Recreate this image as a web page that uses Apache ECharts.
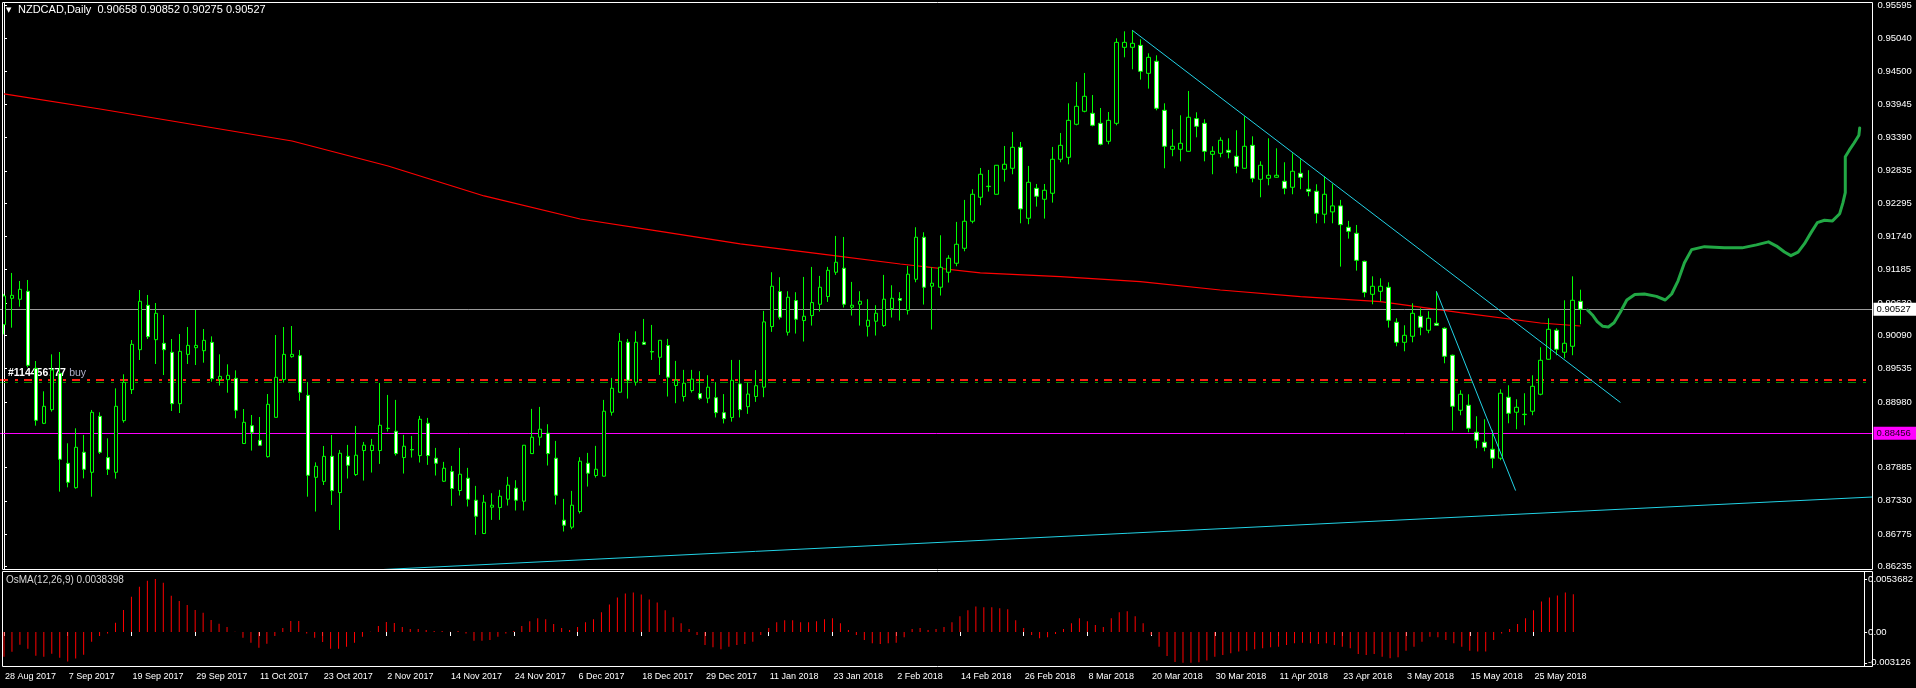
<!DOCTYPE html>
<html><head><meta charset="utf-8">
<script src="https://cdn.jsdelivr.net/npm/echarts@6/dist/echarts.min.js"></script>
<style>html,body{margin:0;padding:0;background:#000;}#c{width:1916px;height:688px;}</style>
</head><body><div id="c"></div>
<script>
// ---------- DATA ----------
const tickLabels = ['28 Aug 2017','7 Sep 2017','19 Sep 2017','29 Sep 2017','11 Oct 2017','23 Oct 2017','2 Nov 2017','14 Nov 2017','24 Nov 2017','6 Dec 2017','18 Dec 2017','29 Dec 2017','11 Jan 2018','23 Jan 2018','2 Feb 2018','14 Feb 2018','26 Feb 2018','8 Mar 2018','20 Mar 2018','30 Mar 2018','11 Apr 2018','23 Apr 2018','3 May 2018','15 May 2018','25 May 2018'];
const TOTAL_SLOTS = 234;

const opens = [0.90269,0.90708,0.90692,0.90825,0.89540,0.88622,0.88850,0.89456,0.87955,0.87548,
0.88139,0.87805,0.88739,0.88050,0.87805,0.88667,0.89184,0.89851,0.90591,0.90018,
0.89957,0.89807,0.88950,0.89773,0.89884,0.89834,0.89973,0.89356,0.89351,0.89373,
0.88285,0.88583,0.88339,0.88066,0.88722,0.89351,0.89734,0.89751,0.89089,0.87721,
0.87654,0.88072,0.87467,0.88072,0.87767,0.88168,0.88168,0.88168,0.88535,0.88490,
0.88051,0.88184,0.88084,0.88623,0.88040,0.87656,0.87817,0.87501,0.87706,0.87339,
0.86783,0.87223,0.87217,0.87356,0.87540,0.87323,0.88117,0.88390,0.88457,0.88040,
0.87006,0.86889,0.87150,0.87956,0.87751,0.87740,0.88807,0.89141,0.89975,0.89307,
0.89975,0.89819,0.89724,0.89920,0.89253,0.89069,0.89169,0.89119,0.89041,0.8905,
0.8880,0.8872,0.8928,0.8890,0.8907,0.89225,0.90237,0.90821,0.90142,0.90670,
0.90337,0.90420,0.90609,0.90737,0.91143,0.91210,0.90559,0.90609,0.90242,0.90326,
0.90253,0.90537,0.90704,0.90509,0.91026,0.91727,0.90910,0.90893,0.91143,0.91293,
0.91543,0.91994,0.92394,0.92578,0.92444,0.92861,0.92878,0.93228,0.92044,0.92544,
0.92361,0.92461,0.93028,0.93061,0.93612,0.93829,0.93795,0.93628,0.93328,0.93628,
0.94896,0.94896,0.94929,0.94462,0.94663,0.93845,0.93195,0.93195,0.93161,0.93706,
0.93628,0.93111,0.93128,0.93178,0.93078,0.92878,0.93261,0.92694,0.92711,0.92728,
0.92661,0.92561,0.92794,0.92528,0.92494,0.92111,0.9215,0.9225,0.91893,0.91793,
0.91325,0.90775,0.90825,0.90892,0.90308,0.89974,0.90075,0.90408,0.90175,0.90291,
0.90208,0.89758,0.88840,0.88924,0.88473,0.88306,0.88190,0.88040,0.89057,0.88807,
0.88774,0.88824,0.89107,0.89691,0.90175,0.89808,0.89908,0.90658];
const highs = [0.90781,0.91131,0.90997,0.91014,0.89662,0.89156,0.89773,0.89812,0.88289,0.88539,
0.88428,0.88845,0.88806,0.88372,0.89206,0.89440,0.90012,0.90847,0.90764,0.90630,
0.90430,0.90029,0.90112,0.90229,0.90513,0.90196,0.90073,0.89773,0.89607,0.89506,
0.88861,0.88761,0.88728,0.89111,0.90096,0.90229,0.90246,0.89846,0.89312,0.87971,
0.88244,0.88428,0.88178,0.88262,0.88579,0.88312,0.88362,0.89296,0.89096,0.89013,
0.88429,0.88412,0.88746,0.88713,0.88212,0.87979,0.87912,0.88212,0.87879,0.87578,
0.87428,0.87456,0.87512,0.87729,0.87673,0.88260,0.88863,0.88896,0.88607,0.88329,
0.87361,0.87495,0.88057,0.88129,0.88246,0.89013,0.89380,0.90130,0.90030,0.90158,
0.90364,0.90264,0.90010,0.90031,0.89664,0.89514,0.89514,0.89492,0.89425,0.8931,
0.8911,0.8968,0.8968,0.8930,0.8951,0.90498,0.91143,0.91060,0.90826,0.90810,
0.91065,0.91232,0.91082,0.91232,0.91749,0.91732,0.90982,0.90826,0.90693,0.90593,
0.91099,0.90926,0.90810,0.91249,0.91894,0.91810,0.91226,0.91760,0.91427,0.91983,
0.92350,0.92528,0.92883,0.92850,0.92930,0.93250,0.93484,0.93317,0.92917,0.92616,
0.92616,0.93234,0.93467,0.93962,0.94318,0.94468,0.94101,0.93884,0.93817,0.95046,
0.95163,0.95180,0.95029,0.94796,0.94763,0.93962,0.93528,0.93762,0.94168,0.93812,
0.93695,0.93245,0.93395,0.93378,0.93512,0.93745,0.93411,0.92994,0.93378,0.93211,
0.92978,0.93128,0.93028,0.92845,0.92611,0.92744,0.9262,0.9235,0.9200,0.91932,
0.91337,0.91075,0.91042,0.90975,0.90375,0.90258,0.90625,0.90541,0.90492,0.90825,
0.90225,0.89769,0.89174,0.89107,0.88740,0.88690,0.88507,0.89190,0.89257,0.89024,
0.89124,0.89424,0.89891,0.90375,0.90208,0.90675,0.91075,0.90852];
const lows = [0.90107,0.90218,0.90569,0.89556,0.88583,0.88610,0.88817,0.87482,0.87554,0.87532,
0.87704,0.87398,0.88111,0.87760,0.87699,0.88633,0.89111,0.89679,0.90029,0.89612,
0.89428,0.88828,0.88794,0.89612,0.89595,0.89634,0.89317,0.89251,0.89133,0.88706,
0.88280,0.88167,0.88250,0.88050,0.88720,0.89301,0.89717,0.89000,0.87398,0.87150,
0.87593,0.87260,0.86843,0.87701,0.87745,0.87667,0.87801,0.87945,0.88485,0.88084,
0.87784,0.88051,0.87968,0.87929,0.87751,0.87645,0.87245,0.87417,0.87234,0.86761,
0.86775,0.87011,0.87011,0.87250,0.87167,0.87167,0.88110,0.88251,0.87918,0.87267,
0.86817,0.86855,0.87117,0.87567,0.87717,0.87735,0.88751,0.89135,0.89035,0.89252,
0.89930,0.89680,0.89430,0.89069,0.88958,0.88986,0.89136,0.89014,0.88958,0.8872,
0.8862,0.8865,0.8872,0.8878,0.8898,0.89058,0.90148,0.90354,0.90087,0.90120,
0.89987,0.90253,0.90487,0.90648,0.91099,0.90554,0.90420,0.90253,0.90070,0.90087,
0.90231,0.90387,0.90337,0.90437,0.90976,0.90604,0.90187,0.90754,0.90971,0.91243,
0.91493,0.91960,0.92261,0.92489,0.92440,0.92655,0.92778,0.91960,0.91944,0.92238,
0.92038,0.92305,0.92978,0.92944,0.93595,0.93812,0.93578,0.93261,0.93278,0.93595,
0.94729,0.94529,0.94357,0.94207,0.93845,0.92878,0.93078,0.92994,0.93155,0.93395,
0.92994,0.92778,0.93061,0.93044,0.92794,0.92870,0.92644,0.92394,0.92594,0.92720,
0.92444,0.92444,0.92528,0.92411,0.91960,0.91960,0.9196,0.91237,0.91704,0.91170,
0.90725,0.90608,0.90658,0.90219,0.89908,0.89824,0.89974,0.90091,0.90125,0.90247,
0.89624,0.88501,0.88757,0.88473,0.88206,0.88156,0.87873,0.88006,0.88623,0.88523,
0.88590,0.88757,0.89090,0.89685,0.89758,0.89707,0.89758,0.90275];
const closes = [0.90747,0.90758,0.90858,0.89590,0.88672,0.88906,0.89512,0.88022,0.87638,0.88222,
0.87855,0.88806,0.88139,0.87855,0.88906,0.89306,0.89940,0.90658,0.90068,0.90458,
0.89851,0.88950,0.89823,0.89923,0.89923,0.90007,0.89367,0.89406,0.89423,0.88839,
0.88639,0.88472,0.88256,0.88939,0.89390,0.89773,0.89773,0.89139,0.87755,0.87905,
0.88071,0.87499,0.88123,0.87922,0.88090,0.88257,0.88257,0.88590,0.88540,0.88117,
0.88240,0.88179,0.88690,0.88084,0.87956,0.87873,0.87534,0.87773,0.87356,0.87072,
0.87306,0.87256,0.87406,0.87590,0.87339,0.88257,0.88390,0.88524,0.88117,0.87423,
0.86922,0.87256,0.87990,0.87790,0.87856,0.88824,0.89207,0.89991,0.89341,0.89975,
0.89941,0.89813,0.90008,0.89392,0.89342,0.89292,0.89359,0.89041,0.89225,0.8880,
0.8870,0.8934,0.8885,0.8911,0.8925,0.90315,0.90910,0.90393,0.90726,0.90359,
0.90409,0.90637,0.90893,0.91176,0.91310,0.90609,0.90593,0.90659,0.90342,0.90459,
0.90693,0.90709,0.90676,0.91110,0.91727,0.90893,0.90960,0.91226,0.91377,0.91610,
0.91994,0.92444,0.92778,0.92572,0.92928,0.92945,0.93228,0.92200,0.92644,0.92411,
0.92511,0.93028,0.93261,0.93678,0.93912,0.94079,0.93595,0.93278,0.93678,0.94979,
0.94979,0.94963,0.94496,0.94729,0.93879,0.93245,0.93245,0.93295,0.93729,0.93578,
0.93161,0.93161,0.93345,0.93145,0.92911,0.93245,0.92711,0.92928,0.92761,0.92761,
0.92544,0.92828,0.92728,0.92494,0.92127,0.92444,0.9225,0.91937,0.91826,0.91342,
0.90808,0.90909,0.90909,0.90342,0.89974,0.90091,0.90458,0.90225,0.90375,0.90258,
0.89741,0.88907,0.89107,0.88540,0.88340,0.88223,0.88040,0.89124,0.88790,0.88890,
0.88768,0.89240,0.89674,0.90191,0.89858,0.89958,0.90675,0.90527];

const osma = [-0.0025,-0.0020,-0.0013,-0.0017,-0.0024,-0.0025,-0.0022,-0.0026,-0.0030,-0.0027,
-0.0023,-0.0010,-0.0004,-0.00014,0.00095,0.00223,0.00358,0.0046,0.0052,0.00537,
0.0050,0.00368,0.00314,0.00274,0.00223,0.00196,0.00122,0.00085,0.00051,0.00002,
-0.00057,-0.00108,-0.00159,-0.00118,-0.00041,0.00041,0.00112,0.00112,-0.00014,-0.00057,
-0.00101,-0.00169,-0.00170,-0.00149,-0.00108,-0.00047,0.00002,0.00061,0.00101,0.00091,
0.0005,0.0003,0.0003,0.0002,0.0001,0.0001,0.00002,0.0001,-0.00014,-0.00088,
-0.00088,-0.00081,-0.00047,-0.00014,0.0001,0.0006,0.0011,0.0014,0.0013,0.0008,
0.0004,0.0002,0.0005,0.0010,0.0013,0.0020,0.0028,0.0035,0.0039,0.0040,
0.0038,0.0033,0.0030,0.0022,0.0015,0.0009,0.0003,-0.0003,-0.00132,-0.00155,
-0.00176,-0.00149,-0.00132,-0.00122,-0.00098,-0.0003,0.0004,0.0010,0.0012,0.0012,
0.0010,0.0010,0.0011,0.0013,0.0014,0.0009,0.0002,-0.0003,-0.00081,-0.00115,
-0.00122,-0.00115,-0.00108,-0.00054,0.0003,0.0004,0.0002,0.0003,0.0005,0.0010,
0.0016,0.0022,0.0026,0.0025,0.0025,0.0024,0.0023,0.0012,0.0004,-0.0003,
-0.00064,-0.00054,-0.0002,0.0003,0.0009,0.0014,0.0011,0.0007,0.0005,0.0014,
0.0020,0.0021,0.0016,0.0009,-0.0003,-0.00149,-0.00243,-0.00305,-0.00312,-0.00312,
-0.00308,-0.00290,-0.00250,-0.00233,-0.00216,-0.00199,-0.00189,-0.00176,-0.00166,-0.00155,
-0.00149,-0.00132,-0.00115,-0.00108,-0.00115,-0.00122,-0.00115,-0.00132,-0.00149,-0.00166,
-0.00223,-0.00233,-0.00223,-0.00250,-0.00267,-0.00257,-0.00189,-0.00149,-0.00098,-0.00047,
-0.00054,-0.00081,-0.00115,-0.00149,-0.00189,-0.00199,-0.00199,-0.00081,-0.00014,0.0003,
0.0008,0.0014,0.0022,0.0031,0.0035,0.0037,0.0040,0.00384];

// 200-period moving average, read at selected bars
const maBars   = [0, 12, 24, 36, 48, 60, 72, 82, 92, 102, 112, 122, 132, 142, 152, 162, 172, 182, 192, 197];
const maValues = [0.94118,0.93867,0.93600,0.93333,0.92916,0.92416,0.92032,0.91826,0.91615,0.91448,
                  0.91281,0.91131,0.91069,0.90986,0.90847,0.90735,0.90652,0.90469,0.90296,0.90246];

// trend lines: [bar, price] pairs
const trendMain   = [[141, 0.95180], [202, 0.8897]];
const trendShort  = [[179, 0.90825], [188.9, 0.8750]];
const trendBottom = [[47.4, 0.86183], [233.5, 0.87393]];

// green projection line
const projBars   = [197.9,198.5,199.1,199.8,200.5,201.2,202.0,202.8,203.8,205.0,206.5,207.6,208.4,209.2,210.0,210.9,212.5,215.0,217.2,219.0,220.5,221.5,222.5,223.3,224.2,225.0,225.8,226.6,227.5,228.5,229.4,229.8,230.1,230.1,230.6,231.2,231.8,231.9];
const projPrices = [0.9051,0.9043,0.9032,0.9024,0.9023,0.9030,0.9048,0.9068,0.9077,0.9078,0.9074,0.9068,0.9078,0.9100,0.9130,0.9152,0.9157,0.9155,0.9155,0.9160,0.9165,0.9158,0.9148,0.9142,0.9148,0.9162,0.9180,0.9197,0.9201,0.9200,0.9212,0.9230,0.9247,0.9307,0.9318,0.9330,0.9343,0.9355];

const priceTicks = [0.95595,0.95040,0.94500,0.93945,0.93390,0.92835,0.92295,0.91740,0.91185,0.90630,0.90090,0.89535,0.88980,0.87885,0.87330,0.86775,0.86235];
const osmaTicks = [0.0053682, 0, -0.003126];
const osmaTickText = ['0.0053682', '0.00', '-0.003126'];

const bidPrice = 0.90527;
const levelPrice = 0.88456;
const orderPrice = 0.89345;
const orderText = '#114456777';

const symbolHeader = 'NZDCAD,Daily  0.90658 0.90852 0.90275 0.90527';
const osmaHeader = 'OsMA(12,26,9) 0.0038398';

// ---------- BUILD ----------
const slots = Array.from({length: TOTAL_SLOTS}, (_, i) => i);
const candleData = opens.map((o, i) => [o, closes[i], lows[i], highs[i]]);
const FONT = 'Liberation Sans';
const WHITE = '#ffffff';

const chart = echarts.init(document.getElementById('c'), null, {renderer: 'canvas'});
const dateTick = (idx) => idx % 8 === 0 && idx / 8 < tickLabels.length;

const option = {
  backgroundColor: '#000000',
  animation: false,
  grid: [
    {left: -0.5, top: 2.5, width: 1873, height: 567},
    {left: -0.5, top: 571.5, width: 1873, height: 95}
  ],
  xAxis: [
    {type: 'category', gridIndex: 0, data: slots, boundaryGap: true,
     axisLine: {show: false}, axisTick: {show: false}, axisLabel: {show: false}, splitLine: {show: false}},
    {type: 'value', gridIndex: 0, min: -0.5, max: TOTAL_SLOTS - 0.5, show: false},
    {type: 'category', gridIndex: 1, data: slots, boundaryGap: true,
     axisLine: {show: false},
     axisTick: {show: true, alignWithLabel: true, interval: (i) => dateTick(i), length: 4, lineStyle: {color: WHITE}},
     axisLabel: {interval: (i) => dateTick(i), formatter: (v, i) => tickLabels[i / 8] || '',
                 color: WHITE, fontFamily: FONT, fontSize: 9, align: 'left', margin: 6, padding: [0, 0, 0, 1]},
     splitLine: {show: false}}
  ],
  yAxis: [
    {type: 'value', gridIndex: 0, position: 'right', min: 0.86183, max: 0.95644, scale: true,
     splitLine: {show: false},
     axisLine: {show: true, lineStyle: {color: WHITE}},
     axisTick: {show: true, length: 3, customValues: priceTicks, lineStyle: {color: WHITE}},
     axisLabel: {customValues: priceTicks, formatter: (v) => v.toFixed(5), color: WHITE,
                 fontFamily: FONT, fontSize: 9.5, margin: 5}},
    {type: 'value', gridIndex: 1, position: 'right', min: -0.0035, max: 0.00614, scale: true,
     splitLine: {show: false},
     axisLine: {show: true, lineStyle: {color: WHITE}},
     axisTick: {show: true, length: 3, customValues: osmaTicks, lineStyle: {color: WHITE}},
     axisLabel: {customValues: osmaTicks,
                 formatter: (v) => { let b = 0; osmaTicks.forEach((t, k) => { if (Math.abs(t - v) < Math.abs(osmaTicks[b] - v)) b = k; }); return osmaTickText[b]; },
                 color: WHITE, fontFamily: FONT, fontSize: 9.5, margin: 4}}
  ],
  series: [
    {type: 'line', name: 'MA', xAxisIndex: 1, yAxisIndex: 0, z: 1,
     data: maBars.map((b, i) => [b, maValues[i]]), showSymbol: false, silent: true,
     lineStyle: {color: '#ff0000', width: 1.2}},
    {type: 'candlestick', name: 'NZDCAD', xAxisIndex: 0, yAxisIndex: 0, z: 3,
     data: candleData, barWidth: 4,
     itemStyle: {color: '#000000', color0: '#ffffff', borderColor: '#00ff00', borderColor0: '#00ff00', borderColorDoji: '#00ff00', borderWidth: 1},
     markLine: {
       silent: true, symbol: ['none', 'none'], precision: 5, z: 2,
       data: [
         {yAxis: bidPrice, lineStyle: {color: '#9a9a9a', width: 1, type: 'solid'},
          label: {show: true, position: 'end', distance: 1, formatter: bidPrice.toFixed(5),
                  backgroundColor: '#ffffff', color: '#000000', fontFamily: FONT, fontSize: 9.5, padding: [2, 8, 1, 3]}},
         {yAxis: levelPrice, lineStyle: {color: '#ff00ff', width: 1, type: 'solid'},
          label: {show: true, position: 'end', distance: 1, formatter: levelPrice.toFixed(5),
                  backgroundColor: '#ff00ff', color: '#200020', fontFamily: FONT, fontSize: 9.5, padding: [2, 8, 1, 3]}},
         {yAxis: orderPrice - 0.00032, lineStyle: {color: '#008a00', width: 1, type: [8, 7, 3, 6]},
          label: {show: false}},
         {yAxis: orderPrice, lineStyle: {color: '#ff2010', width: 2, type: [8, 7, 3, 6]},
          label: {show: true, position: 'insideStartTop', distance: [8, 1],
                  formatter: '{a|' + orderText + '} {b|buy}',
                  rich: {a: {color: '#ffffff', fontFamily: FONT, fontSize: 10.5, fontWeight: 'bold'},
                         b: {color: '#b0b0c8', fontFamily: FONT, fontSize: 10.5}}}}
       ]
     }},
    {type: 'line', name: 'trend1', xAxisIndex: 1, yAxisIndex: 0, z: 4, data: trendMain,
     showSymbol: false, silent: true, lineStyle: {color: '#22d3e6', width: 1}},
    {type: 'line', name: 'trend2', xAxisIndex: 1, yAxisIndex: 0, z: 4, data: trendShort,
     showSymbol: false, silent: true, lineStyle: {color: '#22d3e6', width: 1}},
    {type: 'line', name: 'trend3', xAxisIndex: 1, yAxisIndex: 0, z: 4, data: trendBottom,
     showSymbol: false, silent: true, lineStyle: {color: '#22d3e6', width: 1}},
    {type: 'line', name: 'projection', xAxisIndex: 1, yAxisIndex: 0, z: 4,
     data: projBars.map((b, i) => [b, projPrices[i]]), showSymbol: false, silent: true,
     lineStyle: {color: '#22a845', width: 3, cap: 'round', join: 'round'}},
    {type: 'bar', name: 'OsMA', xAxisIndex: 2, yAxisIndex: 1, data: osma, barWidth: 1,
     silent: true, itemStyle: {color: '#ff0000'}}
  ],
  graphic: [
    {type: 'rect', silent: true, z: 10, shape: {x: 2.5, y: 2.5, width: 1870, height: 567},
     style: {fill: null, stroke: WHITE, lineWidth: 1}},
    {type: 'rect', silent: true, z: 10, shape: {x: 2.5, y: 571.5, width: 1870, height: 95},
     style: {fill: null, stroke: WHITE, lineWidth: 1}},
    {type: 'text', silent: true, z: 11, left: 6, top: 7,
     style: {text: '▼', fill: WHITE, font: '7px "DejaVu Sans"'}},
    {type: 'text', silent: true, z: 11, left: 18, top: 4,
     style: {text: symbolHeader, fill: WHITE, font: '11px "Liberation Sans"'}},
    {type: 'text', silent: true, z: 11, left: 6, top: 575,
     style: {text: osmaHeader, fill: '#d8d8d8', font: '10px "Liberation Sans"'}}
  ]
};
chart.setOption(option);
</script>
</body></html>
